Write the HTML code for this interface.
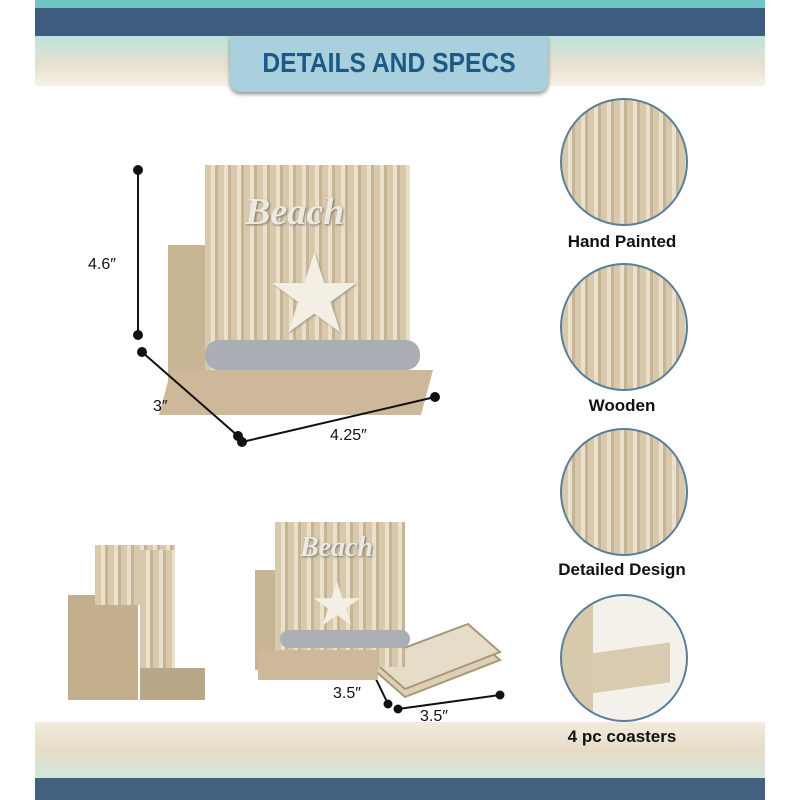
<!DOCTYPE html>
<html><head><style>
body{margin:0;width:800px;height:800px;background:#fff;position:relative;overflow:hidden;font-family:"Liberation Sans",sans-serif}
.a{position:absolute}
.lbl{position:absolute;font-weight:bold;font-size:17px;color:#111;text-align:center;width:160px}
.dim{position:absolute;font-size:16px;color:#111}
.c{position:absolute;width:124px;height:124px;border-radius:50%;border:2px solid #5a7f9a;overflow:hidden}
.wood{background:repeating-linear-gradient(90deg,#d8c9ac 0 6px,#eae0cc 6px 10px,#c7b494 10px 13px)}
</style></head><body>
<div class="a" style="left:35px;top:0;width:730px;height:10px;background:#6fc4c4"></div>
<div class="a" style="left:35px;top:8px;width:730px;height:28px;background:#3f5d80"></div>
<div class="a" style="left:35px;top:36px;width:730px;height:50px;background:linear-gradient(180deg,#bde3dc,#e8e1d0 60%,#f6f2ea)"></div>
<div class="a" style="left:230px;top:36px;width:318px;height:56px;border-radius:0 0 10px 10px;background:#a9d0dc;box-shadow:0 2px 4px #888"></div>
<div class="a" style="left:230px;top:47px;width:318px;text-align:center;font-weight:bold;font-size:28px;color:#1c5a86;transform:scaleX(0.88)">DETAILS AND SPECS</div>

<div class="a" style="left:35px;top:722px;width:730px;height:58px;background:linear-gradient(180deg,#f2ebde,#e6dcc7 50%,#cfe7de)"></div>
<div class="a" style="left:35px;top:778px;width:730px;height:22px;background:#43607f"></div>

<!-- main product -->
<div class="a" style="left:168px;top:245px;width:40px;height:150px;background:#c8b593"></div>
<div class="a wood" style="left:205px;top:165px;width:205px;height:225px"></div>
<div class="a" style="left:245px;top:190px;font:bold italic 38px 'Liberation Serif',serif;color:#eee9df;text-shadow:1px 1px 2px #777">Beach</div>
<div class="a" style="left:265px;top:240px;font-size:110px;color:#f4efe4;line-height:1;text-shadow:1px 1px 2px #998">★</div>
<div class="a" style="left:205px;top:340px;width:215px;height:30px;border-radius:14px;background:#a8aeb4"></div>
<div class="a" style="left:165px;top:370px;width:262px;height:45px;background:#cdb99a;transform:skewX(-15deg)"></div>

<svg class="a" style="left:0;top:0" width="800" height="800">
<polygon points="372,668 468,632 500,660 405,697" fill="#ddd0b6" stroke="#a89779" stroke-width="2"/>
<polygon points="372,660 468,624 500,652 405,689" fill="#e6dcc8" stroke="#a89779" stroke-width="2"/>
<g stroke="#111" stroke-width="2" fill="#111">
<line x1="138" y1="170" x2="138" y2="335"/><circle cx="138" cy="170" r="4"/><circle cx="138" cy="335" r="4"/>
<line x1="142" y1="352" x2="238" y2="436"/><circle cx="142" cy="352" r="4"/><circle cx="238" cy="436" r="4"/>
<line x1="242" y1="442" x2="435" y2="397"/><circle cx="242" cy="442" r="4"/><circle cx="435" cy="397" r="4"/>
<line x1="375" y1="677" x2="388" y2="704"/><circle cx="388" cy="704" r="3.5"/>
<line x1="398" y1="709" x2="500" y2="695"/><circle cx="398" cy="709" r="3.5"/><circle cx="500" cy="695" r="3.5"/>
</g></svg>
<div class="dim" style="left:88px;top:256px">4.6″</div>
<div class="dim" style="left:153px;top:398px">3″</div>
<div class="dim" style="left:330px;top:427px">4.25″</div>
<div class="dim" style="left:333px;top:685px">3.5″</div>
<div class="dim" style="left:420px;top:708px">3.5″</div>

<div class="a" style="left:68px;top:595px;width:70px;height:105px;background:#c3af8c"></div>
<div class="a wood" style="left:95px;top:545px;width:80px;height:60px"></div>
<div class="a wood" style="left:140px;top:550px;width:35px;height:140px"></div>
<div class="a" style="left:140px;top:668px;width:65px;height:32px;background:#b9a888"></div>

<div class="a" style="left:255px;top:570px;width:35px;height:100px;background:#c8b593"></div>
<div class="a wood" style="left:275px;top:522px;width:130px;height:145px"></div>
<div class="a" style="left:300px;top:532px;font:bold italic 28px 'Liberation Serif',serif;color:#eee9df;text-shadow:1px 1px 2px #777">Beach</div>
<div class="a" style="left:310px;top:575px;font-size:60px;color:#f4efe4;line-height:1">★</div>
<div class="a" style="left:280px;top:630px;width:130px;height:18px;border-radius:9px;background:#a9afb4"></div>
<div class="a" style="left:258px;top:650px;width:120px;height:30px;background:#cdb99a"></div>

<div class="c wood" style="left:560px;top:98px"></div>
<div class="lbl" style="left:542px;top:232px">Hand Painted</div>
<div class="c wood" style="left:560px;top:263px"></div>
<div class="lbl" style="left:542px;top:396px">Wooden</div>
<div class="c wood" style="left:560px;top:428px"></div>
<div class="lbl" style="left:542px;top:560px">Detailed Design</div>
<div class="c" style="left:560px;top:594px;background:linear-gradient(90deg,#d8c9ac 0 25%,#f4f1ea 25%)"></div>
<div class="a" style="left:590px;top:648px;width:80px;height:40px;background:#d9cbb0;transform:skewY(-8deg)"></div>
<div class="lbl" style="left:542px;top:727px">4 pc coasters</div>
</body></html>
